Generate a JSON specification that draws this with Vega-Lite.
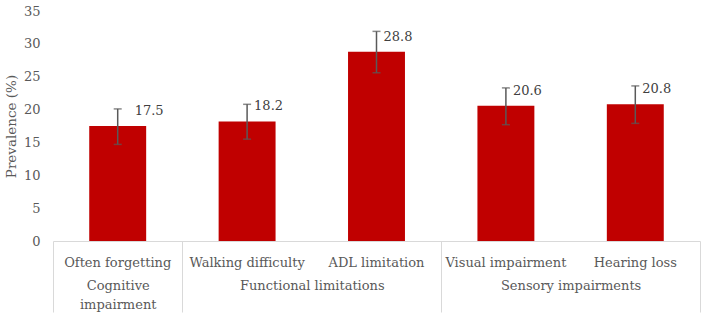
{
  "$schema": "https://vega.github.io/schema/vega-lite/v6.json",
  "width": 647,
  "height": 230,
  "autosize": "none",
  "padding": {"left": 53, "top": 11, "right": 8, "bottom": 80},
  "config": {
    "font": "DejaVu Serif",
    "view": {"stroke": null},
    "axis": {"labelColor": "#595959", "titleColor": "#595959", "labelFontSize": 13, "titleFontSize": 13.5, "titleFontWeight": "normal", "labelFont": "DejaVu Serif", "titleFont": "DejaVu Serif"}
  },
  "layer": [
    {
      "data": {
        "values": [
          {"item": "Often forgetting", "value": 17.5, "lo": 14.7, "hi": 20.1},
          {"item": "Walking difficulty", "value": 18.2, "lo": 15.5, "hi": 20.8},
          {"item": "ADL limitation", "value": 28.8, "lo": 25.6, "hi": 31.9},
          {"item": "Visual impairment", "value": 20.6, "lo": 17.7, "hi": 23.3},
          {"item": "Hearing loss", "value": 20.8, "lo": 17.9, "hi": 23.6}
        ]
      },
      "encoding": {
        "x": {
          "field": "item", "type": "nominal", "sort": null,
          "scale": {"paddingInner": 0.56, "paddingOuter": 0.28},
          "axis": {"orient": "bottom", "title": null, "labelAngle": 0, "ticks": false, "domainColor": "#d9d9d9", "domainWidth": 1, "labelPadding": 21, "labelBaseline": "middle", "grid": false}
        },
        "y": {
          "field": "value", "type": "quantitative",
          "scale": {"domain": [0, 35], "nice": false},
          "axis": {"title": "Prevalence (%)", "values": [0, 5, 10, 15, 20, 25, 30, 35], "grid": false, "domain": false, "ticks": false, "labelPadding": 13, "titlePadding": 5, "labelOverlap": false}
        }
      },
      "layer": [
        {
          "mark": {"type": "bar", "color": "#C00000"}
        },
        {
          "mark": {"type": "rule", "color": "#595959", "strokeWidth": 1.5},
          "encoding": {"y": {"field": "lo", "type": "quantitative"}, "y2": {"field": "hi"}}
        },
        {
          "mark": {"type": "tick", "color": "#595959", "size": 8, "thickness": 1.5, "orient": "horizontal"},
          "encoding": {"y": {"field": "lo", "type": "quantitative"}}
        },
        {
          "mark": {"type": "tick", "color": "#595959", "size": 8, "thickness": 1.5, "orient": "horizontal"},
          "encoding": {"y": {"field": "hi", "type": "quantitative"}}
        },
        {
          "transform": [{"filter": "datum.item != 'Often forgetting'"}],
          "mark": {"type": "text", "align": "left", "baseline": "middle", "dx": 7, "dy": -15, "fontSize": 13, "color": "#404040", "font": "DejaVu Serif"},
          "encoding": {"text": {"field": "value", "type": "quantitative", "format": ".1f"}}
        },
        {
          "transform": [{"filter": "datum.item == 'Often forgetting'"}],
          "mark": {"type": "text", "align": "left", "baseline": "middle", "dx": 17, "dy": -15, "fontSize": 13, "color": "#404040", "font": "DejaVu Serif"},
          "encoding": {"text": {"field": "value", "type": "quantitative", "format": ".1f"}}
        }
      ]
    },
    {
      "data": {"values": [{"b": 0}, {"b": 1}, {"b": 3}, {"b": 5}]},
      "mark": {"type": "text", "opacity": 0, "text": ""},
      "encoding": {
        "x": {
          "field": "b", "type": "quantitative",
          "scale": {"domain": [0, 5], "nice": false, "zero": false},
          "axis": {"orient": "bottom", "values": [0, 1, 3, 5], "tickSize": 71, "tickColor": "#d9d9d9", "tickWidth": 1, "labels": false, "domain": false, "grid": false, "title": null}
        }
      }
    },
    {
      "data": {
        "values": [
          {"group": "Cognitive impairment", "mid": 0.5},
          {"group": "Functional limitations", "mid": 2},
          {"group": "Sensory impairments", "mid": 4}
        ]
      },
      "mark": {"type": "text", "opacity": 0, "text": ""},
      "encoding": {
        "x": {
          "field": "mid", "type": "quantitative",
          "scale": {"domain": [0, 5], "nice": false, "zero": false},
          "axis": {"orient": "bottom", "values": [0.5, 2, 4], "ticks": false, "domain": false, "grid": false, "title": null, "labelPadding": 38, "labelBaseline": "top", "labelLineHeight": 19, "labelAlign": "center",
            "labelExpr": "datum.value == 0.5 ? ['Cognitive', 'impairment'] : datum.value == 2 ? 'Functional limitations' : 'Sensory impairments'"}
        }
      }
    }
  ],
  "resolve": {"scale": {"x": "independent"}, "axis": {"x": "independent"}}
}
